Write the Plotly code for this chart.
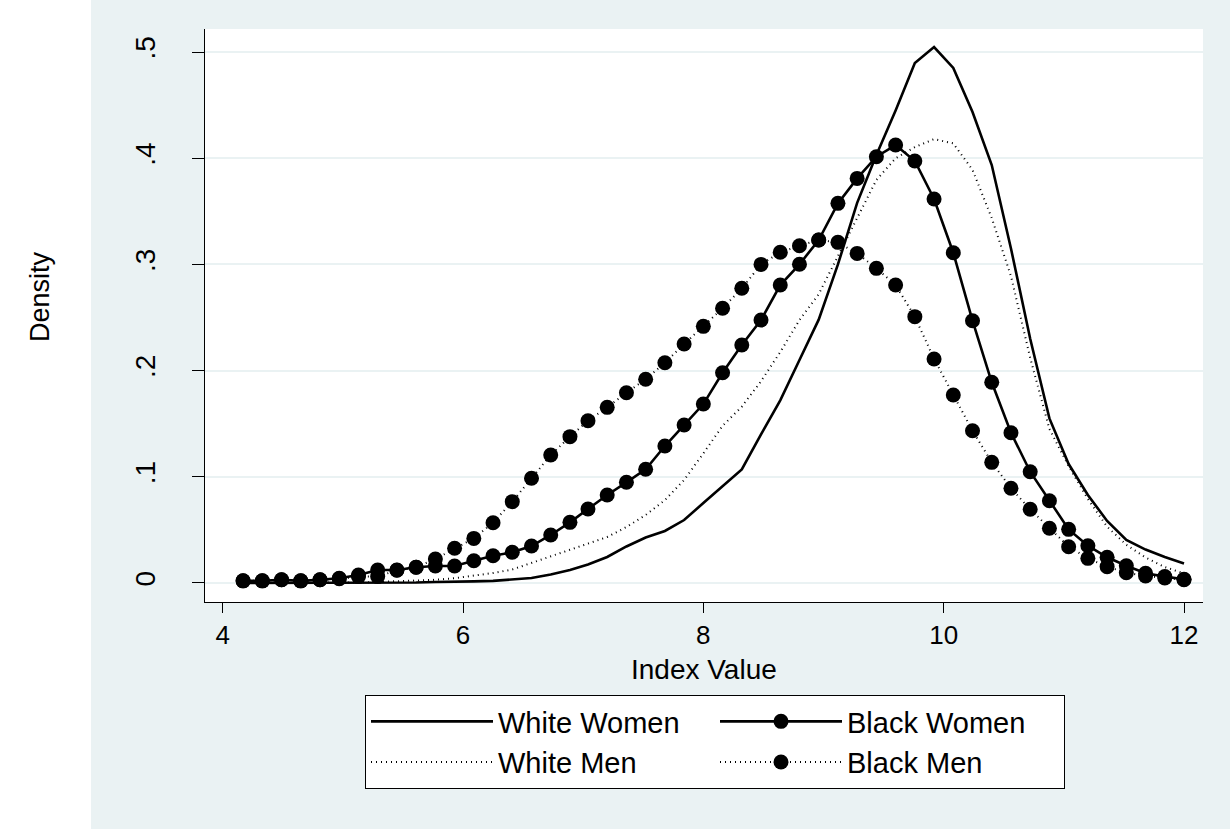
import plotly.graph_objects as go

# ---- data ----
index_value = [4.17, 4.33, 4.49, 4.65, 4.81, 4.97, 5.13, 5.29, 5.45, 5.61,
               5.77, 5.93, 6.09, 6.25, 6.41, 6.57, 6.73, 6.89, 7.04, 7.20,
               7.36, 7.52, 7.68, 7.84, 8.00, 8.16, 8.32, 8.48, 8.64, 8.80,
               8.96, 9.12, 9.28, 9.44, 9.60, 9.76, 9.92, 10.08, 10.24, 10.40,
               10.56, 10.72, 10.88, 11.04, 11.20, 11.36, 11.52, 11.68, 11.84, 12.00]

white_women = [0.000, 0.000, 0.000, 0.000, 0.000, 0.000, 0.0005, 0.0005, 0.0005, 0.0005,
               0.001, 0.001, 0.0015, 0.002, 0.003, 0.0047, 0.008, 0.0122, 0.0174, 0.0245,
               0.0344, 0.0428, 0.049, 0.0593, 0.0753, 0.0913, 0.107, 0.140, 0.172, 0.210,
               0.248, 0.300, 0.358, 0.403, 0.445, 0.4896, 0.5047, 0.485, 0.4435, 0.3936,
               0.315, 0.230, 0.155, 0.112, 0.0829, 0.0584, 0.0405, 0.0315, 0.0245, 0.0184]

white_men = [0.000, 0.000, 0.000, 0.000, 0.000, 0.000, 0.0005, 0.001, 0.0015, 0.002,
             0.003, 0.0045, 0.0066, 0.0094, 0.0127, 0.0188, 0.025, 0.031, 0.0367, 0.0433,
             0.0527, 0.064, 0.078, 0.097, 0.122, 0.148, 0.166, 0.190, 0.2175, 0.2476,
             0.272, 0.308, 0.3446, 0.3795, 0.400, 0.4105, 0.418, 0.414, 0.389, 0.3437,
             0.289, 0.212, 0.145, 0.110, 0.079, 0.053, 0.036, 0.024, 0.015, 0.009]

black_women = [0.002, 0.002, 0.003, 0.002, 0.003, 0.0044, 0.0075, 0.0122, 0.0122, 0.0148,
               0.016, 0.016, 0.021, 0.0257, 0.0289, 0.0348, 0.0452, 0.0571, 0.0697, 0.0829,
               0.0948, 0.1071, 0.129, 0.1488, 0.1685, 0.198, 0.2241, 0.2476, 0.2806, 0.3001,
               0.323, 0.3575, 0.381, 0.4014, 0.4124, 0.3974, 0.3616, 0.311, 0.247, 0.189,
               0.1415, 0.1048, 0.0775, 0.0505, 0.0351, 0.0242, 0.0163, 0.0091, 0.006, 0.0035]

black_men = [0.002, 0.002, 0.003, 0.002, 0.003, 0.004, 0.006, 0.006, 0.012, 0.0148,
             0.0226, 0.0327, 0.042, 0.0568, 0.0766, 0.0986, 0.1205, 0.1378, 0.1528, 0.1654,
             0.1792, 0.1918, 0.2074, 0.225, 0.2417, 0.2587, 0.2775, 0.300, 0.3114, 0.3176,
             0.323, 0.3208, 0.3104, 0.2963, 0.2806, 0.2508, 0.211, 0.177, 0.1434, 0.1136,
             0.0892, 0.0694, 0.0515, 0.0342, 0.0232, 0.0154, 0.0097, 0.0066, 0.0047, 0.003]

x_ticks = [4, 6, 8, 10, 12]
y_ticks = [0, 0.1, 0.2, 0.3, 0.4, 0.5]
y_tick_labels = ["0", ".1", ".2", ".3", ".4", ".5"]

# ---- style ----
FONT = "Liberation Sans, Arial, sans-serif"
BG = "#EAF2F3"
DOT = "1px,4px"

fig = go.Figure()
fig.add_trace(go.Scatter(x=index_value, y=white_women, name="White Women", mode="lines",
                         line=dict(color="black", width=2.6)))
fig.add_trace(go.Scatter(x=index_value, y=black_women, name="Black Women", mode="lines+markers",
                         line=dict(color="black", width=2.6),
                         marker=dict(color="black", size=15, symbol="circle")))
fig.add_trace(go.Scatter(x=index_value, y=white_men, name="White Men", mode="lines",
                         line=dict(color="black", width=2, dash=DOT)))
fig.add_trace(go.Scatter(x=index_value, y=black_men, name="Black Men", mode="lines+markers",
                         line=dict(color="black", width=2, dash=DOT),
                         marker=dict(color="black", size=15, symbol="circle")))

W, H = 1230, 829
L, R, T, B = 205, 27, 29, 227
pw, ph = W - L - R, H - T - B


def px_x(p):
    return (p - L) / pw


def px_y(p):
    return (H - B - p) / ph


fig.update_layout(
    width=W, height=H,
    margin=dict(l=L, r=R, t=T, b=B, autoexpand=False),
    paper_bgcolor=BG,
    plot_bgcolor="white",
    font=dict(family=FONT, size=28, color="black"),
    showlegend=True,
    legend=dict(
        orientation="h",
        x=px_x(365), y=px_y(695), xanchor="left", yanchor="top",
        bgcolor="white", bordercolor="black", borderwidth=1,
        font=dict(family=FONT, size=29, color="black"),
        itemwidth=122,
        entrywidth=212, entrywidthmode="pixels",
        tracegroupgap=0,
    ),
    shapes=[
        dict(type="rect", xref="paper", yref="paper",
             x0=px_x(-5), x1=px_x(91), y0=px_y(H + 5), y1=px_y(-5),
             fillcolor="white", line=dict(width=0), layer="below"),
    ],
    annotations=[
        dict(text="Density", xref="paper", yref="paper",
             x=px_x(40), y=px_y(297), textangle=-90, showarrow=False,
             font=dict(family=FONT, size=27, color="black"),
             xanchor="center", yanchor="middle"),
        dict(text="Index Value", xref="paper", yref="paper",
             x=0.5, y=px_y(669), showarrow=False,
             font=dict(family=FONT, size=28, color="black"),
             xanchor="center", yanchor="middle"),
    ],
)

fig.update_xaxes(
    range=[3.853, 12.158],
    tickvals=x_ticks,
    showgrid=False, zeroline=False,
    showline=True, linecolor="black", linewidth=1.2,
    ticks="outside", ticklen=10, tickwidth=1.2, tickcolor="black",
    tickfont=dict(family=FONT, size=26, color="black"),
)
fig.update_yaxes(
    range=[-0.0179, 0.5217],
    tickvals=y_ticks, ticktext=y_tick_labels,
    showgrid=True, gridcolor=BG, gridwidth=2,
    zeroline=False,
    showline=True, linecolor="black", linewidth=1.2,
    ticks="outside", ticklen=12, tickwidth=1.2, tickcolor="black",
    tickangle=-90,
    ticklabelstandoff=26,
    tickfont=dict(family=FONT, size=28, color="black"),
)

fig.write_html(
    "out.html",
    config={"displayModeBar": False},
    post_script="document.body.style.margin='0';document.body.style.overflow='hidden';",
)
